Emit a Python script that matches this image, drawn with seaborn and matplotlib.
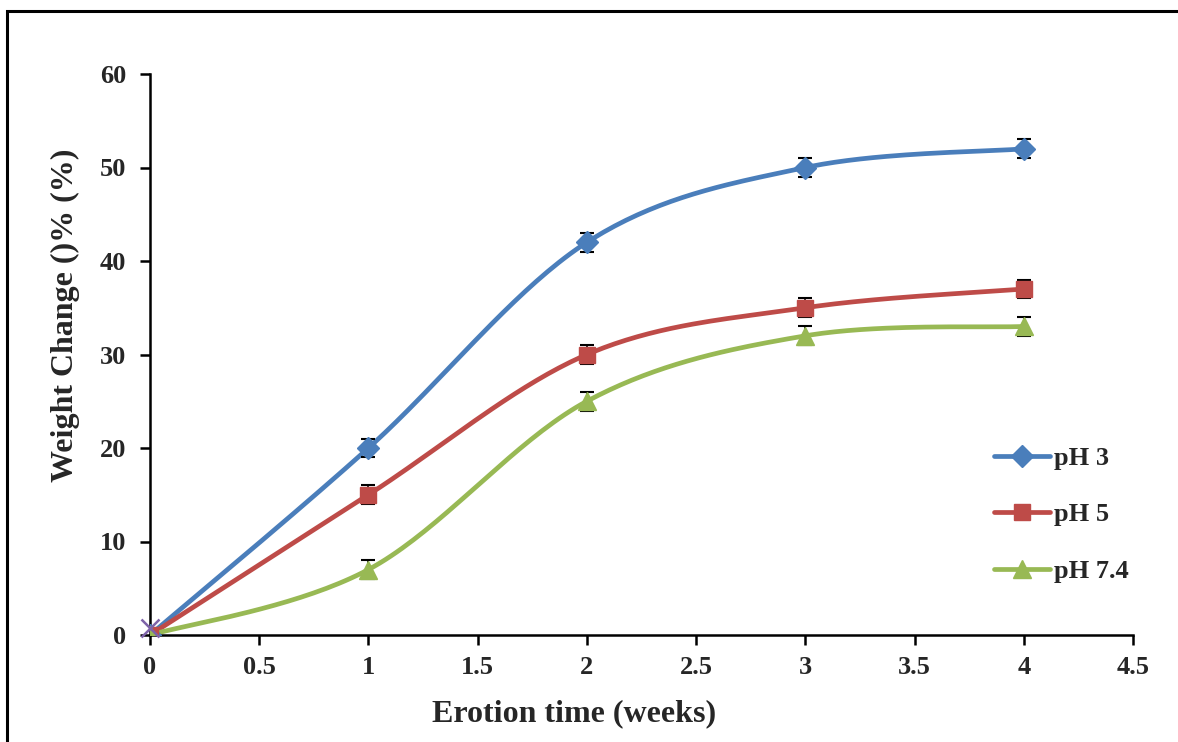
import numpy as np
import pandas as pd
import matplotlib
matplotlib.use("Agg")
import matplotlib.pyplot as plt
import seaborn as sns
from matplotlib.patches import Rectangle

# ---- data ----
weeks = [0, 1, 2, 3, 4]
ph3 = [0, 20, 42, 50, 52]
ph5 = [0, 15, 30, 35, 37]
ph74 = [0, 7, 25, 32, 33]
err3 = [0, 1, 1, 1, 1]
err5 = [0, 1, 1, 1, 1]
err74 = [0, 1, 1, 1, 1]
labels = ["pH 3", "pH 5", "pH 7.4"]
extra_x = [0]
extra_y = [0.8]
x_ticks = [0, 0.5, 1, 1.5, 2, 2.5, 3, 3.5, 4, 4.5]
y_ticks = [0, 10, 20, 30, 40, 50, 60]

colors = ["#4A7EBB", "#BE4B48", "#98B954"]
markers = ["D", "s", "^"]
msizes = [11, 11, 13]

sns.set_theme(style="white")
plt.rcParams['font.family'] = ['Liberation Serif', 'DejaVu Serif']
plt.rcParams['font.weight'] = 'bold'

fig = plt.figure(figsize=(11.78, 7.42), dpi=100)
ax = fig.add_axes([150/1178, 1-635/742, (1133-150)/1178, (635-74)/742])

def smooth(x, y, n=40):
    x = np.asarray(x, float); y = np.asarray(y, float)
    P = np.column_stack([x, y])
    pts = []
    for i in range(len(P)-1):
        p0 = P[i-1] if i > 0 else P[i]
        p1 = P[i]; p2 = P[i+1]
        p3 = P[i+2] if i+2 < len(P) else P[i+1]
        c1 = p1 + (p2 - p0)/6
        c2 = p2 - (p3 - p1)/6
        t = np.linspace(0, 1, n)[:, None]
        seg = (1-t)**3*p1 + 3*(1-t)**2*t*c1 + 3*(1-t)*t**2*c2 + t**3*p2
        pts.append(seg if i == 0 else seg[1:])
    pts = np.vstack(pts)
    return pts[:, 0], pts[:, 1]

series = [ph3, ph5, ph74]
errs = [err3, err5, err74]
for s, e, c, m, ms, lab in zip(series, errs, colors, markers, msizes, labels):
    sx, sy = smooth(weeks, s)
    df = pd.DataFrame({"x": sx, "y": sy})
    sns.lineplot(data=df, x="x", y="y", ax=ax, color=c, lw=3.4, sort=False,
                 estimator=None, legend=False, zorder=2)
    ax.errorbar(weeks, s, yerr=e, fmt="none", ecolor="black", elinewidth=1.2,
                capsize=5, capthick=1.5, zorder=3)
    ax.plot(weeks, s, linestyle="none", marker=m, color=c, ms=ms, zorder=4)
    ax.plot([], [], color=c, lw=3.4, marker=m, ms=ms, label=lab)

ax.plot(extra_x, extra_y, linestyle="none", marker="x", color="#7E63A8",
        ms=13, mew=1.8, zorder=5, clip_on=False)

ax.set_xlim(0, 4.5)
ax.set_ylim(0, 60)
ax.set_xticks(x_ticks)
ax.set_xticklabels([f"{v:g}" for v in x_ticks])
ax.set_yticks(y_ticks)
for sp in ["top", "right"]:
    ax.spines[sp].set_visible(False)
for sp in ["left", "bottom"]:
    ax.spines[sp].set_color("black")
    ax.spines[sp].set_linewidth(1.8)
ax.tick_params(axis="both", which="both", direction="out", length=7, width=1.8,
               color="black", labelsize=19, bottom=True, left=True)
ax.tick_params(axis="x", pad=8)
ax.tick_params(axis="y", pad=10)
for t in ax.get_xticklabels() + ax.get_yticklabels():
    t.set_fontweight("bold")

ax.set_xlabel("Erotion time (weeks)", fontsize=23, fontweight="bold", labelpad=12)
ax.xaxis.set_label_coords((574-150)/983, -(714-635)/561)
ax.set_ylabel("Weight Change ()% (%)", fontsize=23, fontweight="bold")
ax.yaxis.set_label_coords(-(150-65)/983, (635-315)/561)
ax.xaxis.label.set_va("center")
ax.yaxis.label.set_va("center")

leg = ax.legend(loc="upper left", bbox_to_anchor=(0.848, 0.355), frameon=False,
                fontsize=19, labelspacing=1.25, handlelength=2.1,
                handletextpad=0.15, borderaxespad=0)
for t in leg.get_texts():
    t.set_fontweight("bold")

fig.patches.append(Rectangle((7/1178, -0.1), 1.2, 1-11/742+0.1,
                             transform=fig.transFigure, fill=False,
                             edgecolor="black", lw=2.2))

fig.savefig("out.png", dpi=100)
